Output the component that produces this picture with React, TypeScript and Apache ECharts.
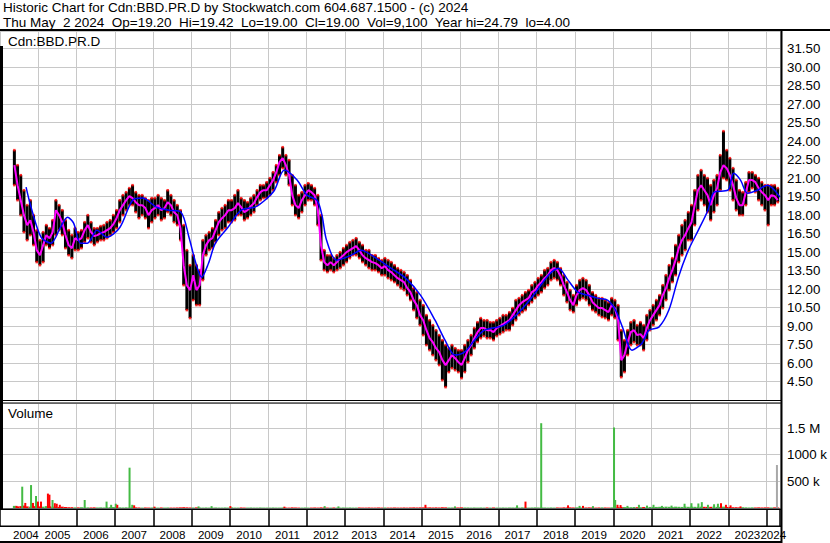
import { useEffect, useRef } from 'react';
import * as echarts from 'echarts';

// ---- data (monthly, May 2004 .. Apr 2024) ----
const START_YEAR = 2004;
const START_MONTH = 4; // May (0-based)
const VIEW_START = 2004.35;
const VIEW_END = 2024.35;

const highs = [
  23.26, 22.04, 21.23, 20.01, 18.80, 19.20, 17.99, 16.77,
  15.96, 16.61, 17.18, 16.93, 17.58, 19.20, 18.80, 18.39, 17.58, 16.77, 16.37, 16.93,
  16.61, 16.77, 17.42, 17.99, 17.42, 16.93, 16.93, 17.10, 17.18, 17.42, 17.58, 17.99,
  18.39, 19.20, 19.61, 19.85, 20.18, 20.42, 19.85, 19.61, 19.61, 19.37, 19.20, 19.37,
  19.37, 19.61, 19.37, 19.20, 20.01, 19.61, 19.20, 18.80, 18.39, 17.18, 15.15, 13.93,
  14.74, 13.93, 13.53, 15.96, 16.37, 16.61, 16.93, 17.58, 18.23, 18.56, 18.80, 19.20,
  19.20, 19.61, 20.01, 19.37, 19.20, 19.04, 19.37, 19.61, 20.01, 20.42, 20.42, 20.66,
  20.99, 21.47, 22.04, 22.85, 23.50, 22.85, 22.45, 21.23, 20.42, 19.61, 19.85, 20.42,
  20.58, 20.42, 20.18, 19.61, 17.99, 15.15, 14.74, 14.74, 14.50, 14.74, 14.99, 15.31,
  15.56, 15.80, 15.96, 16.12, 15.80, 15.56, 15.15, 15.15, 14.74, 14.74, 14.50, 14.34,
  14.50, 14.34, 14.18, 13.93, 13.69, 13.53, 13.37, 13.12, 12.72, 12.07, 11.74, 11.10,
  10.69, 9.88, 9.47, 9.07, 8.66, 8.26, 7.85, 7.45, 7.20, 7.45, 7.20, 7.04,
  7.04, 7.45, 7.85, 8.26, 8.83, 9.31, 9.64, 9.47, 9.47, 9.31, 9.31, 9.47,
  9.64, 9.88, 9.88, 10.12, 10.45, 11.10, 11.26, 11.50, 11.74, 11.91, 12.31, 12.56,
  12.88, 13.12, 13.53, 13.69, 14.18, 14.34, 14.18, 13.69, 13.12, 12.56, 11.91, 11.50,
  12.31, 12.72, 12.88, 12.72, 12.31, 11.74, 11.50, 11.26, 11.26, 11.10, 10.93, 11.26,
  11.10, 10.69, 8.66, 7.85, 8.66, 9.31, 9.47, 9.07, 9.31, 9.07, 9.88, 10.29,
  10.69, 11.10, 11.50, 12.31, 13.12, 13.93, 14.50, 15.56, 16.37, 17.18, 17.58, 18.23,
  18.80, 20.01, 21.23, 21.64, 21.23, 20.99, 20.42, 20.83, 21.23, 22.85, 24.80, 23.26,
  22.61, 21.80, 20.83, 20.01, 19.85, 20.66, 21.47, 21.47, 21.23, 20.99, 20.66, 20.42,
  20.42, 20.42, 20.42, 20.18,
];

const lows = [
  20.42, 19.20, 17.99, 16.61, 15.96, 16.37, 15.56, 14.18,
  13.93, 14.18, 15.56, 15.31, 15.56, 16.37, 16.77, 16.37, 15.31, 14.74, 14.50, 15.15,
  15.15, 15.31, 15.80, 16.12, 15.80, 15.56, 15.80, 15.96, 15.96, 16.12, 16.37, 16.61,
  16.93, 17.42, 17.99, 18.39, 18.80, 18.80, 18.23, 17.74, 17.99, 17.74, 16.93, 17.42,
  17.74, 17.99, 17.58, 17.74, 18.23, 17.99, 17.42, 17.18, 15.96, 12.31, 10.29, 9.64,
  11.10, 10.69, 10.69, 12.72, 14.74, 15.15, 15.31, 15.80, 16.37, 16.77, 16.93, 17.42,
  17.42, 17.58, 17.99, 17.99, 17.58, 17.74, 17.99, 18.23, 18.80, 19.20, 19.37, 19.37,
  19.61, 20.01, 20.66, 21.23, 21.80, 21.23, 20.42, 18.80, 17.99, 17.74, 18.23, 18.80,
  19.20, 19.20, 18.80, 17.18, 14.34, 13.53, 13.37, 13.53, 13.37, 13.53, 13.69, 13.93,
  14.18, 14.50, 14.74, 14.74, 14.50, 14.18, 13.93, 13.69, 13.53, 13.53, 13.37, 13.12,
  13.12, 12.88, 12.72, 12.56, 12.31, 12.07, 11.91, 11.50, 11.10, 10.29, 9.64, 9.07,
  8.26, 7.45, 7.04, 6.64, 6.23, 5.83, 4.61, 4.04, 5.26, 5.58, 5.42, 5.26,
  4.77, 5.26, 6.07, 6.64, 7.20, 7.69, 8.01, 8.18, 8.01, 8.01, 7.85, 8.18,
  8.34, 8.50, 8.66, 8.66, 9.07, 9.47, 9.88, 10.12, 10.29, 10.69, 10.93, 11.26,
  11.50, 11.74, 12.07, 12.31, 12.72, 12.88, 12.72, 12.31, 11.50, 10.93, 10.29, 10.12,
  10.69, 11.10, 11.26, 11.10, 10.69, 10.29, 10.12, 9.88, 9.72, 9.64, 9.47, 9.88,
  9.64, 7.85, 4.85, 5.26, 6.64, 7.45, 7.69, 7.45, 7.45, 7.04, 7.85, 8.66,
  9.07, 9.47, 9.88, 10.45, 11.10, 11.91, 12.56, 13.12, 14.18, 14.74, 15.15, 15.96,
  15.96, 17.18, 18.39, 19.20, 18.80, 18.23, 17.58, 18.23, 18.80, 20.01, 20.99, 20.83,
  20.01, 19.20, 18.39, 17.99, 17.99, 18.80, 19.85, 20.18, 19.85, 19.20, 18.80, 18.39,
  17.18, 18.80, 18.80, 19.04,
];

const closes = [
  22.04, 20.42, 19.20, 17.99, 17.18, 17.58, 16.61, 15.15,
  14.74, 15.56, 16.37, 16.12, 16.61, 18.39, 17.99, 17.42, 16.37, 15.56, 15.31, 16.12,
  15.96, 16.12, 16.77, 17.18, 16.61, 16.29, 16.37, 16.53, 16.61, 16.77, 16.93, 17.26,
  17.74, 18.39, 18.80, 19.20, 19.53, 19.37, 19.04, 18.80, 18.80, 18.56, 17.99, 18.39,
  18.56, 18.80, 18.39, 18.56, 19.04, 18.80, 18.23, 17.99, 16.93, 13.93, 12.31, 11.91,
  13.12, 11.91, 12.31, 14.74, 15.56, 15.96, 16.12, 16.77, 17.42, 17.74, 17.99, 18.39,
  18.39, 18.56, 18.96, 18.64, 18.23, 18.39, 18.72, 18.96, 19.45, 19.85, 20.01, 20.01,
  20.42, 20.83, 21.47, 22.29, 22.61, 22.04, 21.23, 19.61, 18.80, 18.56, 19.20, 19.61,
  20.01, 19.85, 19.61, 18.39, 15.56, 14.18, 13.93, 14.18, 13.93, 14.18, 14.50, 14.74,
  14.99, 15.15, 15.31, 15.47, 15.15, 14.74, 14.50, 14.34, 14.18, 14.10, 13.93, 13.69,
  13.85, 13.53, 13.37, 13.12, 12.88, 12.72, 12.56, 12.07, 11.74, 11.10, 10.69, 9.88,
  9.47, 8.66, 8.01, 7.69, 7.20, 6.88, 6.23, 5.83, 6.23, 6.64, 6.39, 6.07,
  5.83, 6.39, 7.04, 7.45, 8.01, 8.50, 8.83, 8.83, 8.66, 8.66, 8.50, 8.83,
  8.99, 9.15, 9.31, 9.47, 9.88, 10.29, 10.69, 10.93, 11.10, 11.26, 11.74, 11.91,
  12.31, 12.56, 12.88, 13.12, 13.53, 13.69, 13.53, 13.04, 12.31, 11.74, 11.10, 10.69,
  11.50, 11.91, 12.07, 11.91, 11.50, 10.93, 10.69, 10.45, 10.45, 10.29, 10.12, 10.69,
  10.45, 9.47, 6.23, 6.64, 7.69, 8.50, 8.66, 8.26, 8.34, 8.01, 8.83, 9.47,
  9.88, 10.29, 10.69, 11.50, 12.07, 12.88, 13.53, 14.34, 15.31, 15.96, 16.37, 16.93,
  17.42, 18.80, 20.01, 20.42, 20.01, 19.61, 18.80, 19.61, 20.18, 21.47, 22.04, 21.80,
  21.23, 20.42, 19.37, 18.80, 18.80, 19.85, 20.83, 20.83, 20.66, 20.18, 19.85, 19.61,
  19.20, 19.61, 19.53, 19.20,
];

// slow moving average (blue)
const blueYears = [
  2004.68, 2004.81, 2005.07, 2005.33, 2005.58, 2005.76, 2005.92, 2006.10, 2006.28, 2006.53,
  2006.79, 2007.13, 2007.46, 2007.72, 2008.08, 2008.41, 2008.72, 2008.93, 2009.11, 2009.26,
  2009.44, 2009.62, 2009.95, 2010.29, 2010.65, 2010.91, 2011.16, 2011.42, 2011.75, 2012.01,
  2012.27, 2012.40, 2012.52, 2012.78, 2013.17, 2013.42, 2013.81, 2014.20, 2014.58, 2014.97,
  2015.35, 2015.61, 2015.87, 2016.12, 2016.38, 2016.64, 2017.15, 2017.54, 2017.92, 2018.31,
  2018.57, 2018.82, 2019.08, 2019.34, 2019.59, 2019.85, 2020.06, 2020.24, 2020.49, 2020.75,
  2020.93, 2021.19, 2021.45, 2021.70, 2021.96, 2022.22, 2022.47, 2022.63, 2022.99, 2023.14,
  2023.32, 2023.50, 2023.76, 2024.02, 2024.35,
];
const blueValues = [
  20.26, 18.64, 16.2, 15.72, 17.01, 17.82, 17.34, 15.72, 15.72, 16.77,
  16.2, 17.01, 19.2, 19.37, 18.64, 18.39, 18.23, 16.2, 14.09, 12.96,
  14.09, 15.72, 17.01, 18.39, 18.64, 19.2, 20.01, 21.64, 20.83, 19.61,
  19.2, 17.99, 15.96, 14.34, 14.75, 15.15, 14.5, 13.69, 12.88, 11.5,
  9.47, 7.85, 6.64, 6.88, 7.85, 8.66, 9.07, 10.12, 11.5, 13.12,
  13.69, 12.72, 11.74, 11.5, 11.26, 11.1, 10.29, 8.91, 7.04, 7.61,
  8.66, 8.91, 10.29, 12.96, 15.15, 16.77, 18.39, 19.85, 20.01, 21.39,
  20.83, 19.77, 20.01, 20.42, 19.45,
];

// typical monthly daily-volume level (thousands)
const baseVolK = [
  40, 30, 35, 45, 30, 25, 35, 30,
  30, 25, 35, 30, 25, 20, 20, 25, 18, 15, 15, 12,
  12, 15, 10, 12, 10, 12, 10, 12, 10, 12, 15, 18,
  15, 12, 10, 12, 10, 10, 12, 10, 8, 10, 8, 10,
  10, 8, 10, 8, 10, 8, 8, 10, 12, 15, 12, 10,
  10, 12, 10, 8, 10, 8, 8, 10, 8, 8, 10, 8,
  12, 8, 8, 10, 8, 8, 10, 8, 8, 10, 8, 8,
  8, 10, 8, 8, 10, 8, 8, 12, 10, 8, 8, 10,
  8, 8, 10, 8, 12, 10, 8, 8, 10, 8, 8, 10,
  8, 10, 8, 8, 10, 8, 8, 10, 8, 8, 10, 8,
  10, 8, 8, 10, 8, 8, 10, 8, 10, 12, 10, 12,
  12, 10, 12, 10, 12, 10, 14, 12, 10, 10, 12, 10,
  12, 10, 10, 8, 10, 8, 10, 8, 10, 8, 10, 8,
  8, 10, 8, 10, 8, 10, 8, 12, 10, 8, 10, 12,
  10, 12, 10, 8, 10, 8, 10, 8, 12, 10, 12, 10,
  12, 10, 12, 10, 12, 10, 8, 10, 12, 10, 8, 12,
  12, 15, 20, 18, 15, 15, 18, 15, 15, 18, 15, 20,
  18, 20, 22, 20, 25, 22, 20, 25, 22, 20, 25, 22,
  25, 22, 20, 25, 22, 20, 22, 25, 20, 22, 25, 20,
  18, 15, 15, 12, 15, 12, 10, 12, 10, 12, 10, 12,
  12, 10, 12, 10,
];

// individual high-volume days
const spikeYears = [
  2004.43, 2004.58, 2004.66, 2004.81, 2004.86, 2004.94, 2004.99, 2005.07, 2005.25, 2005.29,
  2005.37, 2005.43, 2005.48, 2005.56, 2006.21, 2006.78, 2006.90, 2007.02, 2007.06, 2007.38,
  2007.45, 2007.50, 2008.03, 2009.18, 2009.52, 2010.01, 2011.42, 2012.47, 2012.83, 2015.10,
  2015.87, 2017.49, 2017.71, 2018.12, 2018.82, 2019.12, 2019.21, 2019.47, 2020.02, 2020.05,
  2020.11, 2020.19, 2020.37, 2020.67, 2020.88, 2021.05, 2021.27, 2021.52, 2021.86, 2022.04,
  2022.22, 2022.31, 2022.47, 2022.63, 2022.73, 2022.81, 2022.94, 2023.06, 2023.32, 2024.27,
];
const spikeVolK = [
  40, 400, 95, 430, 95, 225, 120, 120, 270, 250,
  150, 90, 80, 60, 150, 120, 60, 80, 60, 756,
  60, 50, 25, 30, 35, 35, 25, 35, 30, 60,
  30, 50, 120, 1590, 50, 40, 40, 35, 1510, 150,
  60, 55, 40, 60, 45, 60, 40, 45, 80, 90,
  85, 110, 60, 70, 80, 90, 60, 50, 30, 806,
];
const spikeDir = [
  'd', 'u', 'd', 'u', 'd', 'u', 'd', 'd', 'd', 'd',
  'u', 'd', 'd', 'd', 'u', 'u', 'u', 'u', 'd', 'u',
  'u', 'd', 'd', 'u', 'u', 'd', 'd', 'u', 'u', 'd',
  'u', 'u', 'd', 'u', 'd', 'u', 'd', 'u', 'u', 'u',
  'd', 'd', 'u', 'u', 'u', 'u', 'u', 'u', 'u', 'u',
  'u', 'u', 'u', 'u', 'u', 'd', 'd', 'd', 'd', 'n',
];

const yearLabels = [
  '2004', '2005', '2006', '2007', '2008', '2009', '2010', '2011', '2012', '2013', '2014',
  '2015', '2016', '2017', '2018', '2019', '2020', '2021', '2022', '2023', '2024',
];

const priceTickLabels = [
  '4.50', '6.00', '7.50', '9.00', '10.50', '12.00', '13.50', '15.00', '16.50', '18.00',
  '19.50', '21.00', '22.50', '24.00', '25.50', '27.00', '28.50', '30.00', '31.50',
];

const headerLine1 = 'Historic Chart for Cdn:BBD.PR.D by Stockwatch.com 604.687.1500 - (c) 2024';
const headerLine2 =
  'Thu May\u00a0 2 2024\u00a0 Op=19.20\u00a0 Hi=19.42\u00a0 Lo=19.00\u00a0 Cl=19.00\u00a0 Vol=9,100\u00a0 Year hi=24.79\u00a0 lo=4.00';

// ---- styling ----
const FONT = "'Liberation Sans', Arial, Helvetica, sans-serif";
const GRID_COLOR = '#c8c8c8';
const UP = '#44bb44';
const DOWN = '#ff0000';
const NEUTRAL = '#a8a8a8';

const monthTimes = closes.map((_, i) => START_YEAR + (START_MONTH + i + 0.5) / 12);

function buildOption(): any {
  const priceBars = monthTimes.map((t, i) => [t, highs[i], lows[i]]);
  const dots: number[][] = [];
  monthTimes.forEach((t, i) => {
    dots.push([t, highs[i]]);
    dots.push([t, lows[i]]);
  });
  const maFast = monthTimes.map((t, i) => [t, closes[i]]);
  const maSlow = blueYears.map((t, i) => [t, blueValues[i]]);

  const volData: number[][] = [];
  const volColors: string[] = [];
  const volWidths: number[] = [];
  monthTimes.forEach((t, i) => {
    volData.push([t, baseVolK[i] * 1000]);
    volColors.push(i > 0 && closes[i] < closes[i - 1] ? DOWN : UP);
    volWidths.push(3);
  });
  spikeYears.forEach((t, i) => {
    volData.push([t, spikeVolK[i] * 1000]);
    volColors.push(spikeDir[i] === 'u' ? UP : spikeDir[i] === 'd' ? DOWN : NEUTRAL);
    volWidths.push(2);
  });

  const labelData = yearLabels.map((y) => {
    const s = Math.max(Number(y), VIEW_START);
    const e = Math.min(Number(y) + 1, VIEW_END);
    return [(s + e) / 2, 0.5];
  });

  const gridBase = { left: -11.6, right: 50 };
  const xBase = {
    type: 'value',
    min: 2004,
    max: VIEW_END,
    interval: 1,
    axisLabel: { show: false },
    axisTick: { show: false },
    axisLine: { show: false },
  };

  const border = (x: number, y: number, w: number, h: number) => ({
    type: 'rect',
    shape: { x, y, width: w, height: h },
    style: { fill: '#000' },
    z: 100,
    silent: true,
  });
  const txt = (x: number, y: number, text: string) => ({
    type: 'text',
    x,
    y,
    z: 101,
    silent: true,
    style: {
      text,
      fill: '#000',
      fontSize: 13.5,
      fontFamily: FONT,
      verticalAlign: 'middle',
      align: 'left',
    },
  });

  return {
    animation: false,
    backgroundColor: '#ffffff',
    grid: [
      { ...gridBase, top: 31, height: 369 },
      { ...gridBase, top: 403, height: 105 },
      { ...gridBase, top: 509, height: 17 },
      { ...gridBase, top: 527, height: 15 },
    ],
    xAxis: [
      { ...xBase, gridIndex: 0, splitLine: { show: true, lineStyle: { color: GRID_COLOR, width: 1 } } },
      { ...xBase, gridIndex: 1, splitLine: { show: true, lineStyle: { color: GRID_COLOR, width: 1 } } },
      { ...xBase, gridIndex: 2, splitLine: { show: true, lineStyle: { color: '#000', width: 1.5 } } },
      { ...xBase, gridIndex: 3, splitLine: { show: false } },
    ],
    yAxis: [
      {
        type: 'value',
        gridIndex: 0,
        position: 'right',
        min: 3,
        max: 32.92,
        interval: 1.5,
        axisLine: { show: false },
        axisTick: { show: false },
        splitLine: { show: true, lineStyle: { color: GRID_COLOR, width: 1 } },
        axisLabel: {
          margin: 7,
          color: '#000',
          fontSize: 13.3,
          fontFamily: FONT,
          formatter: (v: number) => {
            const s = v.toFixed(2);
            return priceTickLabels.indexOf(s) >= 0 ? s : '';
          },
        },
      },
      {
        type: 'value',
        gridIndex: 1,
        position: 'right',
        min: 0,
        max: 1968750,
        interval: 500000,
        axisLine: { show: false },
        axisTick: { show: false },
        splitLine: { show: true, lineStyle: { color: GRID_COLOR, width: 1 } },
        axisLabel: {
          margin: 7,
          color: '#000',
          fontSize: 13.3,
          fontFamily: FONT,
          formatter: (v: number) =>
            v === 500000 ? '500 k' : v === 1000000 ? '1000 k' : v === 1500000 ? '1.5 M' : '',
        },
      },
      { type: 'value', gridIndex: 2, min: 0, max: 1, show: false },
      { type: 'value', gridIndex: 3, min: 0, max: 1, show: false },
    ],
    series: [
      {
        type: 'custom',
        name: 'bars',
        xAxisIndex: 0,
        yAxisIndex: 0,
        silent: true,
        clip: true,
        encode: { x: 0, y: [1, 2] },
        data: priceBars,
        z: 2,
        renderItem: (_p: any, api: any) => {
          const top = api.coord([api.value(0), api.value(1)]);
          const bot = api.coord([api.value(0), api.value(2)]);
          return {
            type: 'rect',
            shape: { x: top[0] - 1.5, y: top[1], width: 3, height: Math.max(1, bot[1] - top[1]) },
            style: { fill: '#000' },
          };
        },
      },
      {
        type: 'scatter',
        name: 'ticks',
        xAxisIndex: 0,
        yAxisIndex: 0,
        silent: true,
        symbol: 'rect',
        symbolSize: 2.5,
        itemStyle: { color: '#ff0000' },
        data: dots,
        z: 3,
      },
      {
        type: 'line',
        name: 'fast',
        xAxisIndex: 0,
        yAxisIndex: 0,
        silent: true,
        showSymbol: false,
        symbol: 'none',
        lineStyle: { color: '#ff00ff', width: 2 },
        data: maFast,
        z: 4,
      },
      {
        type: 'line',
        name: 'slow',
        xAxisIndex: 0,
        yAxisIndex: 0,
        silent: true,
        showSymbol: false,
        symbol: 'none',
        smooth: 0.3,
        lineStyle: { color: '#0000ff', width: 1.5 },
        data: maSlow,
        z: 5,
      },
      {
        type: 'custom',
        name: 'volume',
        xAxisIndex: 1,
        yAxisIndex: 1,
        silent: true,
        clip: true,
        encode: { x: 0, y: 1 },
        data: volData,
        renderItem: (p: any, api: any) => {
          const base = api.coord([api.value(0), 0]);
          const top = api.coord([api.value(0), api.value(1)]);
          const w = volWidths[p.dataIndex];
          return {
            type: 'rect',
            shape: { x: base[0] - w / 2, y: top[1], width: w, height: Math.max(1, base[1] - top[1]) },
            style: { fill: volColors[p.dataIndex] },
          };
        },
      },
      {
        type: 'custom',
        name: 'years',
        xAxisIndex: 3,
        yAxisIndex: 3,
        silent: true,
        clip: false,
        encode: { x: 0, y: 1 },
        data: labelData,
        z: 10,
        renderItem: (p: any, api: any) => {
          const pt = api.coord([api.value(0), api.value(1)]);
          return {
            type: 'text',
            x: pt[0],
            y: pt[1],
            style: {
              text: yearLabels[p.dataIndex],
              fill: '#000',
              fontSize: 11.6,
              fontFamily: FONT,
              align: 'center',
              verticalAlign: 'middle',
            },
          };
        },
      },
    ],
    graphic: [
      border(0, 29, 830, 2),
      border(780.5, 29, 2, 514),
      border(0, 46, 3, 463),
      border(0, 400, 781, 1),
      border(0, 402.5, 781, 1),
      border(0, 508.5, 781, 1.5),
      border(0, 525.5, 781, 1.5),
      border(0, 541, 781, 2),
      txt(3, 7.5, headerLine1),
      txt(3, 22, headerLine2),
      txt(8, 41.5, 'Cdn:BBD.PR.D'),
      txt(8, 413, 'Volume'),
    ],
  };
}

export default function App() {
  const ref = useRef<HTMLDivElement>(null);
  useEffect(() => {
    if (!ref.current) return;
    const chart = echarts.init(ref.current, null, { renderer: 'svg' });
    chart.setOption(buildOption());
    return () => {
      chart.dispose();
    };
  }, []);
  return (
    <div
      ref={ref}
      style={{ position: 'absolute', left: 0, top: 0, width: 830, height: 543, background: '#fff' }}
    />
  );
}
